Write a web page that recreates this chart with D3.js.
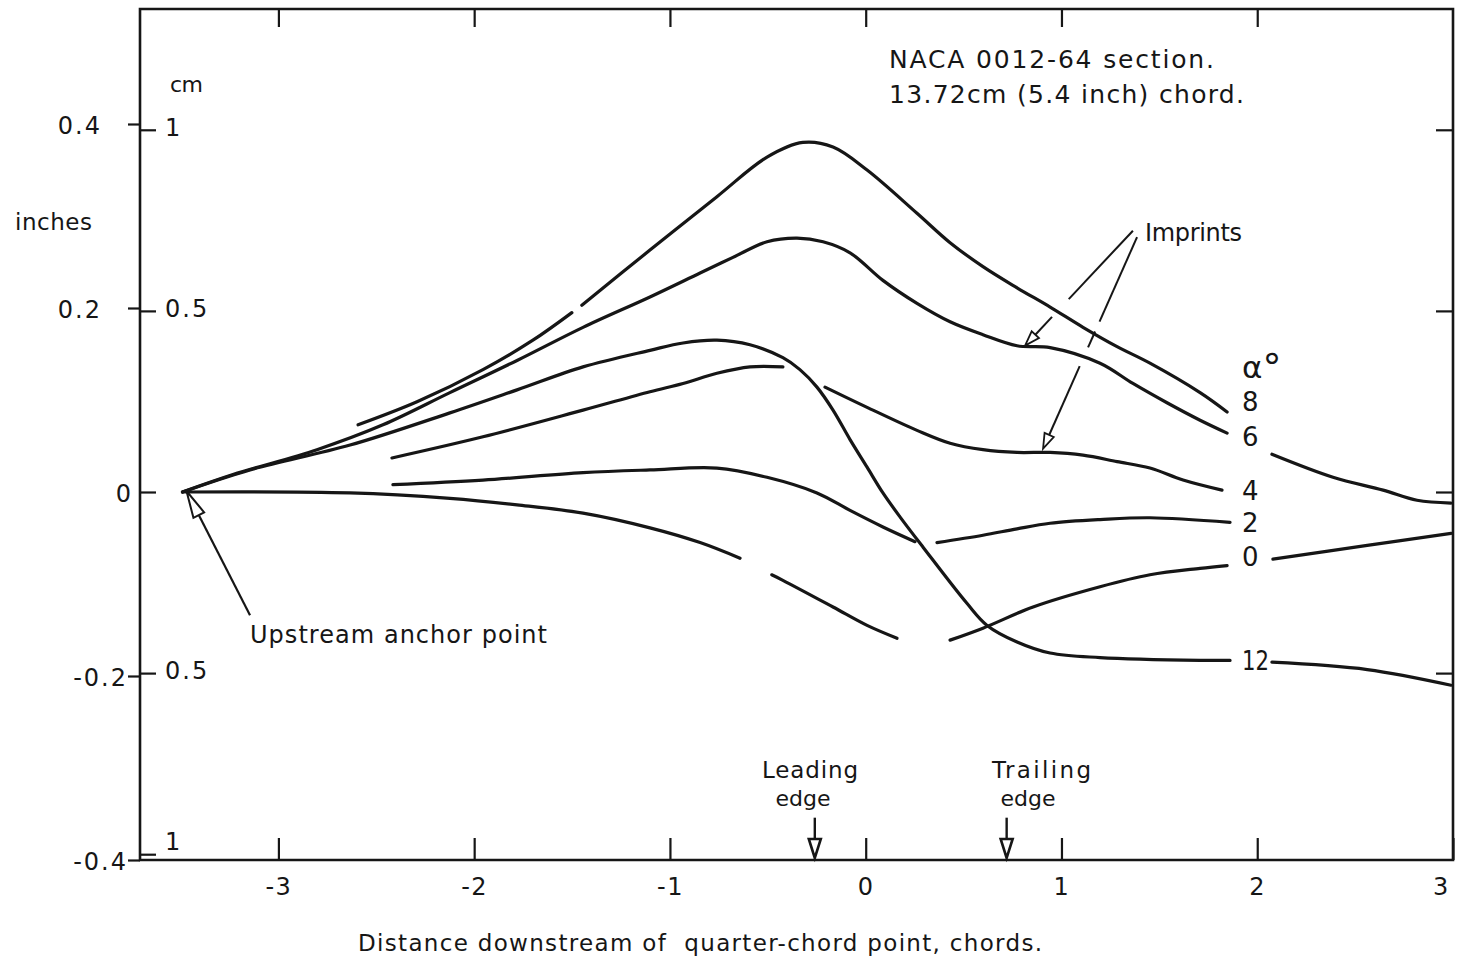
<!DOCTYPE html>
<html>
<head>
<meta charset="utf-8">
<title>Wake displacement downstream of a NACA 0012-64 section</title>
<script src="https://cdn.jsdelivr.net/npm/d3@7"></script>
<style>
  html, body { margin: 0; padding: 0; background: #fff; }
  svg { display: block; }
  text { font-family: "DejaVu Sans", "Noto Sans", sans-serif; fill: #161616; }
  .pre { white-space: pre; }
</style>
</head>
<body>
<svg id="chart" width="1458" height="963"></svg>
<script>
// ---------------------------------------------------------------------------
// Data
// x: distance downstream of the quarter-chord point, in chords
// y: vertical displacement, in inches
// Each trace is a list of drawn pieces; a break in a trace starts a new piece.
// ---------------------------------------------------------------------------
const anglesOfAttack = [8, 6, 4, 2, 0, 12];

const alpha8 = [
  [[-2.593, 0.073], [-2.292, 0.098], [-1.955, 0.133], [-1.700, 0.165], [-1.501, 0.195]],
  [[-1.450, 0.203], [-1.102, 0.263], [-0.760, 0.321], [-0.504, 0.364], [-0.321, 0.380],
   [-0.167, 0.375], [0.007, 0.350], [0.262, 0.303], [0.431, 0.271], [0.599, 0.245],
   [0.773, 0.222], [0.942, 0.201], [1.110, 0.179], [1.284, 0.158], [1.452, 0.140],
   [1.708, 0.108], [1.846, 0.087]]
];

const alpha6 = [
  [[-3.49, 0.000], [-3.232, 0.019], [-2.803, 0.046], [-2.466, 0.073], [-2.124, 0.108],
   [-1.781, 0.143], [-1.444, 0.179], [-1.102, 0.212], [-0.846, 0.238], [-0.678, 0.255],
   [-0.504, 0.272], [-0.351, 0.276], [-0.218, 0.272], [-0.080, 0.260], [0.088, 0.230],
   [0.262, 0.205], [0.431, 0.185], [0.599, 0.171], [0.773, 0.159], [0.942, 0.157],
   [1.197, 0.140], [1.365, 0.118], [1.539, 0.097], [1.708, 0.078], [1.846, 0.064]],
  [[2.075, 0.041], [2.387, 0.016], [2.643, 0.002], [2.816, -0.009], [2.99, -0.012]]
];

const alpha4 = [
  [[-2.420, 0.037], [-1.955, 0.060], [-1.444, 0.089], [-1.102, 0.109], [-0.933, 0.118],
   [-0.760, 0.129], [-0.591, 0.136], [-0.423, 0.136]],
  [[-0.208, 0.114], [0.007, 0.092], [0.262, 0.067], [0.431, 0.053], [0.599, 0.046],
   [0.773, 0.043], [0.942, 0.043], [1.110, 0.040], [1.284, 0.033], [1.452, 0.026],
   [1.621, 0.013], [1.820, 0.002]]
];

const alpha2 = [
  [[-2.415, 0.008], [-1.955, 0.013], [-1.444, 0.021], [-1.102, 0.024], [-0.760, 0.026],
   [-0.504, 0.016], [-0.249, -0.001], [-0.080, -0.020], [0.088, -0.038], [0.252, -0.054]],
  [[0.364, -0.055], [0.599, -0.047], [0.773, -0.040], [0.942, -0.034], [1.197, -0.030],
   [1.452, -0.028], [1.861, -0.033]]
];

const alpha0 = [
  [[-3.49, 0.000], [-2.634, -0.001], [-2.124, -0.007], [-1.781, -0.014], [-1.444, -0.023],
   [-1.102, -0.039], [-0.846, -0.055], [-0.642, -0.072]],
  [[-0.480, -0.090], [-0.423, -0.096], [-0.167, -0.125], [0.007, -0.145], [0.160, -0.159]],
  [[0.431, -0.161], [0.599, -0.148], [0.855, -0.125], [1.197, -0.103], [1.452, -0.090],
   [1.708, -0.083], [1.846, -0.080]],
  [[2.080, -0.073], [2.562, -0.058], [2.99, -0.045]]
];

const alpha12 = [
  [[-3.49, 0.000], [-3.145, 0.024], [-2.634, 0.051], [-2.124, 0.086], [-1.781, 0.111],
   [-1.444, 0.136], [-1.102, 0.154], [-0.933, 0.162], [-0.760, 0.165], [-0.591, 0.160],
   [-0.423, 0.146], [-0.336, 0.133], [-0.249, 0.114], [-0.167, 0.089], [-0.080, 0.057],
   [0.007, 0.027], [0.088, -0.001], [0.175, -0.027], [0.293, -0.060], [0.517, -0.121],
   [0.620, -0.145], [0.773, -0.163], [0.942, -0.175], [1.197, -0.180], [1.708, -0.183],
   [1.861, -0.183]],
  [[2.075, -0.185], [2.562, -0.193], [2.99, -0.210]]
];

const traces = { 8: alpha8, 6: alpha6, 4: alpha4, 2: alpha2, 0: alpha0, 12: alpha12 };

const xTickValues = [-3, -2, -1, 0, 1, 2, 3];
const xTickLabels = ["-3", "-2", "-1", "0", "1", "2", "3"];
const inchTickValues = [0.4, 0.2, 0, -0.2, -0.4];
const inchTickLabels = ["0.4", "0.2", "0", "-0.2", "-0.4"];
const cmTickValues = [1, 0.5, 0, -0.5, -1];
const cmTickLabels = ["1", "0.5", "", "0.5", "1"];

const anchorPoint = [-3.49, 0.0];
const leadingEdge = -0.26;
const trailingEdge = 0.72;

// ---------------------------------------------------------------------------
// Layout
// ---------------------------------------------------------------------------
const plot = { left: 140, right: 1453, top: 9, bottom: 860 };
const INK = "#161616";

const x = d3.scaleLinear().domain([-3.707, 3.0]).range([plot.left, plot.right]);
const y = d3.scaleLinear().domain([-0.4, 0.525]).range([plot.bottom, plot.top]);
const yCm = d3.scaleLinear().domain(y.domain().map(v => v * 2.54)).range(y.range());

const svg = d3.select("#chart");

function label(g, str, px, py, opt = {}) {
  const t = g.append("text")
    .attr("x", px).attr("y", py)
    .attr("font-size", opt.size || 23)
    .attr("text-anchor", opt.anchor || "start")
    .text(str);
  if (opt.width) t.attr("textLength", opt.width).attr("lengthAdjust", "spacing");
  if (opt.cls) t.attr("class", opt.cls);
  return t;
}

function arrowHead(tip, tail, len, half) {
  const dx = tip[0] - tail[0], dy = tip[1] - tail[1], L = Math.hypot(dx, dy);
  const ux = dx / L, uy = dy / L;
  const bx = tip[0] - ux * len, by = tip[1] - uy * len;
  return {
    base: [bx, by],
    d: `M${tip[0]},${tip[1]}L${bx - uy * half},${by + ux * half}L${bx + uy * half},${by - ux * half}Z`
  };
}

const tickStyle = g => {
  g.select(".domain").remove();
  g.selectAll(".tick line").attr("stroke", INK).attr("stroke-width", 2.2);
};

// ---------------------------------------------------------------------------
// Frame and axes
// ---------------------------------------------------------------------------
svg.append("path")
  .attr("d", `M${plot.left},${plot.top}H${plot.right}V${plot.bottom}H${plot.left}Z`)
  .attr("fill", "none").attr("stroke", INK).attr("stroke-width", 2.6);

// bottom: chords, ticks pointing inward
svg.append("g")
  .attr("transform", `translate(0,${plot.bottom})`)
  .call(d3.axisBottom(x).tickValues(xTickValues).tickSize(-22).tickPadding(18)
    .tickFormat((d, i) => xTickLabels[i]))
  .call(tickStyle)
  .call(g => g.selectAll(".tick text")
    .attr("font-size", 24)
    .attr("letter-spacing", 1.5)
    .attr("dx", d => (d === 3 ? -12 : 0)));

// top: matching inward ticks
svg.append("g")
  .attr("transform", `translate(0,${plot.top})`)
  .call(d3.axisTop(x).tickValues(xTickValues.slice(0, -1)).tickSize(-18).tickFormat(""))
  .call(tickStyle);

// left, outside: inches
svg.append("g")
  .attr("transform", `translate(${plot.left},0)`)
  .call(d3.axisLeft(y).tickValues(inchTickValues.filter(v => v !== 0)).tickSize(12).tickFormat(""))
  .call(tickStyle);

const inchLabelGap = v => (v > 0 ? 38 : v === 0 ? 7 : 12);
svg.append("g").selectAll("text")
  .data(inchTickValues)
  .join("text")
  .attr("x", v => plot.left - inchLabelGap(v))
  .attr("y", v => y(v))
  .attr("dy", "0.42em")
  .attr("text-anchor", "end")
  .attr("font-size", 24)
  .attr("letter-spacing", 2)
  .text((v, i) => inchTickLabels[i]);

// left, inside: centimetres
svg.append("g")
  .attr("transform", `translate(${plot.left},0)`)
  .call(d3.axisRight(yCm).tickValues(cmTickValues).tickSize(16).tickPadding(9)
    .tickFormat((d, i) => cmTickLabels[i]))
  .call(tickStyle)
  .call(g => g.selectAll(".tick text")
    .attr("font-size", 24)
    .attr("letter-spacing", 2)
    .attr("dy", d => (d === -1 ? "-0.2em" : "0.22em")));

// right: inward ticks at the centimetre marks
svg.append("g")
  .attr("transform", `translate(${plot.right},0)`)
  .call(d3.axisLeft(yCm).tickValues(cmTickValues.filter(v => v > -1)).tickSize(17).tickFormat(""))
  .call(tickStyle);

// axis units
const notes = svg.append("g");
label(notes, "cm", 170, 92, { size: 22, width: 33 });
label(notes, "inches", 15, 230, { size: 23, width: 77 });
label(notes, "Distance downstream of  quarter-chord point, chords.", 358, 951,
  { size: 23, width: 684, cls: "pre" });

// ---------------------------------------------------------------------------
// Traces
// ---------------------------------------------------------------------------
const line = d3.line()
  .x(d => x(d[0]))
  .y(d => y(d[1]))
  .curve(d3.curveCatmullRom.alpha(0.5));

const curveLayer = svg.append("g")
  .attr("fill", "none")
  .attr("stroke", INK)
  .attr("stroke-width", 3.2)
  .attr("stroke-linecap", "round")
  .attr("stroke-linejoin", "round");

anglesOfAttack.forEach(a => {
  curveLayer.append("g")
    .attr("class", `alpha-${a}`)
    .selectAll("path")
    .data(traces[a])
    .join("path")
    .attr("d", line);
});

// angle labels sit in the break of each trace
const labelColumn = 1.922;
const labelNudge = { 8: -10, 6: 4, 0: -9 };
const seriesLabels = svg.append("g");
anglesOfAttack.forEach(a => {
  const before = traces[a].filter(p => p[p.length - 1][0] < 2).pop();
  const end = before[before.length - 1];
  const t = seriesLabels.append("text")
    .attr("x", x(labelColumn))
    .attr("y", y(end[1]) + (labelNudge[a] || 0))
    .attr("dy", "0.36em")
    .attr("font-size", 26)
    .text(a);
  if (a >= 10) t.attr("textLength", 27).attr("lengthAdjust", "spacingAndGlyphs");
});

const alphaLabel = seriesLabels.append("text")
  .attr("x", x(labelColumn))
  .attr("y", y(0.124))
  .attr("font-size", 31);
alphaLabel.append("tspan").text("α");
alphaLabel.append("tspan").attr("dx", 0).attr("dy", 2).attr("font-size", 38).text("°");

// ---------------------------------------------------------------------------
// Annotations
// ---------------------------------------------------------------------------
const ann = svg.append("g").attr("stroke", INK).attr("fill", "none");

// title block
label(notes, "NACA 0012-64 section.", 889, 68, { size: 25, width: 325 });
label(notes, "13.72cm (5.4 inch) chord.", 889, 103, { size: 25, width: 355 });

// upstream anchor point
{
  const tip = [x(anchorPoint[0]) + 4, y(anchorPoint[1]) - 1];
  const tail = [x(-3.145), y(-0.134)];
  const head = arrowHead(tip, tail, 27, 6);
  ann.append("line")
    .attr("x1", tail[0]).attr("y1", tail[1])
    .attr("x2", head.base[0]).attr("y2", head.base[1])
    .attr("stroke-width", 2.2);
  ann.append("path").attr("d", head.d).attr("fill", "#fff").attr("stroke-width", 2);
  label(notes, "Upstream anchor point", 250, 643, { size: 24, width: 297 });
}

// imprint leaders, broken where they pass other traces
const imprintLeaders = [
  { from: [1.365, 0.284], to: [0.814, 0.158], gaps: [[0.595, 0.75]] },
  { from: [1.386, 0.277], to: [0.906, 0.046], gaps: [[0.399, 0.446], [0.521, 0.61]] }
];
imprintLeaders.forEach(l => {
  const p0 = [x(l.from[0]), y(l.from[1])];
  const p1 = [x(l.to[0]), y(l.to[1]) - 1];
  const L = Math.hypot(p1[0] - p0[0], p1[1] - p0[1]);
  const head = arrowHead(p1, p0, 15, 5);
  const tEnd = 1 - 15 / L;
  const cuts = [0, ...l.gaps.flat(), tEnd];
  const at = t => [p0[0] + (p1[0] - p0[0]) * t, p0[1] + (p1[1] - p0[1]) * t];
  for (let i = 0; i < cuts.length; i += 2) {
    const a = at(cuts[i]), b = at(cuts[i + 1]);
    ann.append("line")
      .attr("x1", a[0]).attr("y1", a[1]).attr("x2", b[0]).attr("y2", b[1])
      .attr("stroke-width", 2);
  }
  ann.append("path").attr("d", head.d).attr("fill", "#fff").attr("stroke-width", 1.8);
});
label(notes, "Imprints", 1145, 241, { size: 24, width: 97 });

// leading and trailing edge markers
[[leadingEdge, "Leading", 762, 96, 803], [trailingEdge, "Trailing", 992, 99, 1028]]
  .forEach(([xe, word, wx, ww, ecx]) => {
    const px = x(xe);
    const tail = [px, y(-0.354)];
    const tip = [px, plot.bottom - 2];
    const head = arrowHead(tip, tail, 19, 6);
    ann.append("line")
      .attr("x1", tail[0]).attr("y1", tail[1])
      .attr("x2", head.base[0]).attr("y2", head.base[1])
      .attr("stroke-width", 2.4);
    ann.append("path").attr("d", head.d).attr("fill", "#fff").attr("stroke-width", 2.6);
    label(notes, word, wx, 778, { size: 23, width: ww });
    label(notes, "edge", ecx, 806, { size: 22, anchor: "middle" });
  });
</script>
</body>
</html>
